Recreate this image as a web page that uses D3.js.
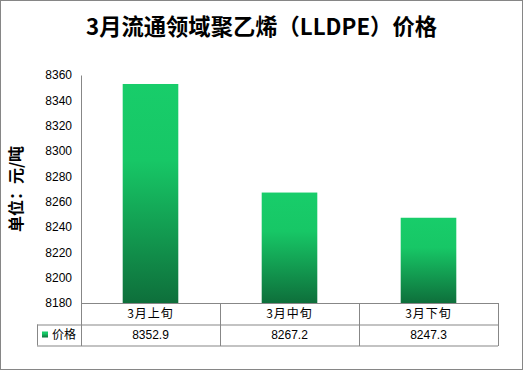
<!DOCTYPE html>
<html><head><meta charset="utf-8">
<script src="https://cdn.jsdelivr.net/npm/d3@7"></script>
<style>html,body{margin:0;padding:0;background:#fff;} svg{display:block;}</style>
</head><body>
<svg id="c" width="523" height="370"></svg>
<script>
const title = "3月流通领域聚乙烯（LLDPE）价格";
const yAxisTitle = "单位：元/吨";
const seriesName = "价格";
const categories = ["3月上旬", "3月中旬", "3月下旬"];
const values = [8352.9, 8267.2, 8247.3];
const valueLabels = ["8352.9", "8267.2", "8247.3"];
const yTicks = [8180, 8200, 8220, 8240, 8260, 8280, 8300, 8320, 8340, 8360];

const svg = d3.select("#c");
const W = 523, H = 370;
const m = {left: 81, right: 498, top: 75, bottom: 303};
const rowH = [303, 324.5, 345.5];
const legendLeft = 37;
const font = "'Noto Sans CJK SC', 'Noto Sans', sans-serif";
const grid = "#878787";

svg.append("rect").attr("x", 0.5).attr("y", 0.5).attr("width", W - 1).attr("height", H - 1)
  .attr("fill", "#fff").attr("stroke", "#868686");

const defs = svg.append("defs");
const g = defs.append("linearGradient").attr("id", "bg").attr("x1", 0).attr("y1", 0).attr("x2", 0).attr("y2", 1);
g.append("stop").attr("offset", "0%").attr("stop-color", "#18CD6A");
g.append("stop").attr("offset", "35%").attr("stop-color", "#17C766");
g.append("stop").attr("offset", "100%").attr("stop-color", "#0E6F3B");

const x = d3.scaleBand().domain(categories).range([m.left, m.right]).paddingInner(0.6).paddingOuter(0.3);
const xCol = d3.scaleBand().domain(categories).range([m.left, m.right]).padding(0);
const y = d3.scaleLinear().domain([8180, 8360]).range([m.bottom, m.top]);

svg.append("text").attr("x", 261.5).attr("y", 35).attr("text-anchor", "middle")
  .attr("font-family", font).attr("font-weight", "bold").attr("font-size", 22.3).attr("fill", "#000").text(title);

// y axis
const ya = svg.append("g").attr("transform", `translate(${m.left},0)`)
  .call(d3.axisLeft(y).tickValues(yTicks).tickSize(0).tickPadding(9).tickFormat(d3.format("d")));
ya.select(".domain").attr("stroke", grid).attr("stroke-width", 1);
ya.selectAll("text").attr("font-family", "'Liberation Sans', Arial, sans-serif").attr("font-size", 12).attr("fill", "#000");

svg.append("text").attr("transform", "translate(22,189) rotate(-90)").attr("text-anchor", "middle")
  .attr("font-family", font).attr("font-weight", "bold").attr("font-size", 16).attr("fill", "#000").text(yAxisTitle);

// bars
svg.selectAll("rect.bar").data(values).enter().append("rect").attr("class", "bar")
  .attr("x", (d, i) => x(categories[i])).attr("width", x.bandwidth())
  .attr("y", d => y(d)).attr("height", d => y(8180) - y(d)).attr("fill", "url(#bg)");

// data table
const tl = svg.append("g").attr("stroke", grid).attr("stroke-width", 1).attr("fill", "none");
tl.append("line").attr("x1", m.left).attr("x2", m.right).attr("y1", rowH[0] + 0.5).attr("y2", rowH[0] + 0.5);
tl.append("line").attr("x1", legendLeft).attr("x2", m.right).attr("y1", rowH[1] + 0.5).attr("y2", rowH[1] + 0.5);
tl.append("line").attr("x1", legendLeft).attr("x2", m.right).attr("y1", rowH[2] + 0.5).attr("y2", rowH[2] + 0.5);
tl.append("line").attr("x1", legendLeft + 0.5).attr("x2", legendLeft + 0.5).attr("y1", rowH[1]).attr("y2", rowH[2]);
const cols = categories.map(c => xCol(c)).concat([m.right]);
cols.forEach(cx => {
  tl.append("line").attr("x1", Math.round(cx) + 0.5).attr("x2", Math.round(cx) + 0.5).attr("y1", rowH[0]).attr("y2", rowH[2] + 0.5);
});

svg.selectAll("text.cat").data(categories).enter().append("text").attr("class", "cat")
  .attr("x", d => xCol(d) + xCol.bandwidth() / 2).attr("y", 318).attr("text-anchor", "middle")
  .attr("font-family", font).attr("font-size", 12).attr("fill", "#000").attr("letter-spacing", 1).text(d => d);

svg.selectAll("text.val").data(valueLabels).enter().append("text").attr("class", "val")
  .attr("x", (d, i) => xCol(categories[i]) + xCol.bandwidth() / 2).attr("y", 339).attr("text-anchor", "middle")
  .attr("font-family", "'Liberation Sans', Arial, sans-serif").attr("font-size", 12).attr("fill", "#000").text(d => d);

svg.append("rect").attr("x", 42).attr("y", 331.5).attr("width", 6).attr("height", 6).attr("fill", "url(#bg)");
svg.append("text").attr("x", 52).attr("y", 339).attr("font-family", font).attr("font-size", 12).attr("fill", "#000").text(seriesName);
</script>
</body></html>
